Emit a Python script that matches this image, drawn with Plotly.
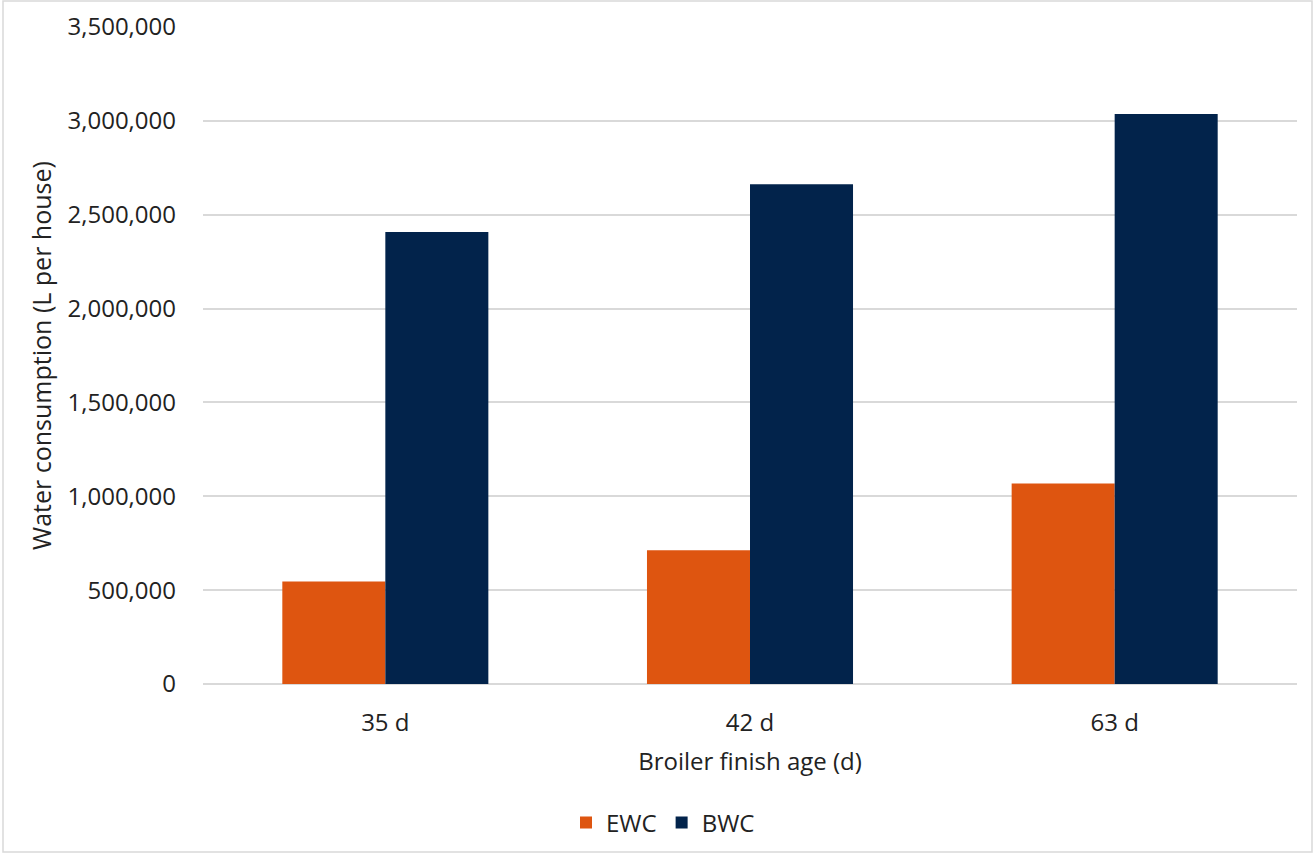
import plotly.graph_objects as go

categories = ["35 d", "42 d", "63 d"]
ewc = [546000, 713000, 1068000]
bwc = [2408000, 2662000, 3037000]
y_ticks = [0, 500000, 1000000, 1500000, 2000000, 2500000, 3000000, 3500000]
y_tick_labels = ["0", "500,000", "1,000,000", "1,500,000", "2,000,000", "2,500,000", "3,000,000", "3,500,000"]

W, H = 1315, 855
L, R, T, B = 203, 18, 27, 171
pw, ph = W - L - R, H - T - B

def px(x):
    return (x - L) / pw

def py(y):
    return (H - B - y) / ph

font = "Open Sans, Noto Sans, sans-serif"
fs = 24

fig = go.Figure()
fig.add_trace(go.Bar(name="EWC", x=categories, y=ewc, marker=dict(color="#DE5510", line=dict(width=0))))
fig.add_trace(go.Bar(name="BWC", x=categories, y=bwc, marker=dict(color="#02234B", line=dict(width=0))))

fig.update_layout(
    width=W, height=H,
    margin=dict(l=L, r=R, t=T, b=B, autoexpand=False),
    paper_bgcolor="white", plot_bgcolor="white",
    barmode="group", bargap=0.435, bargroupgap=0,
    font=dict(family=font, size=fs, color="#222222"),
    showlegend=True,
    legend=dict(orientation="h", x=px(663), y=py(823), xanchor="center", yanchor="middle",
                font=dict(size=fs, color="#222222"), itemwidth=30, traceorder="normal"),
    xaxis=dict(showgrid=False, showline=False, zeroline=False, ticks="",
               tickfont=dict(size=fs), automargin=False, ticklabelstandoff=22,
               title=dict(text="Broiler finish age (d)", font=dict(size=fs), standoff=16)),
    yaxis=dict(range=[0, 3500000], tickvals=y_ticks, ticktext=y_tick_labels,
               showgrid=True, gridcolor="#D9D9D9", gridwidth=1.5,
               zeroline=True, zerolinecolor="#D9D9D9", zerolinewidth=1.5,
               showline=False, ticks="", ticklabelstandoff=26, automargin=False,
               tickfont=dict(size=fs),
               title=dict(text="Water consumption (L per house)", font=dict(size=fs + 1), standoff=8)),
)

fig.add_shape(type="rect", xref="paper", yref="paper",
              x0=px(3), x1=px(1312), y0=py(852), y1=py(1),
              line=dict(color="#D9D9D9", width=1.5), fillcolor="rgba(0,0,0,0)", layer="below")

fig.write_html("out.html", config={"displayModeBar": False},
               post_script="document.body.style.margin='0';")
